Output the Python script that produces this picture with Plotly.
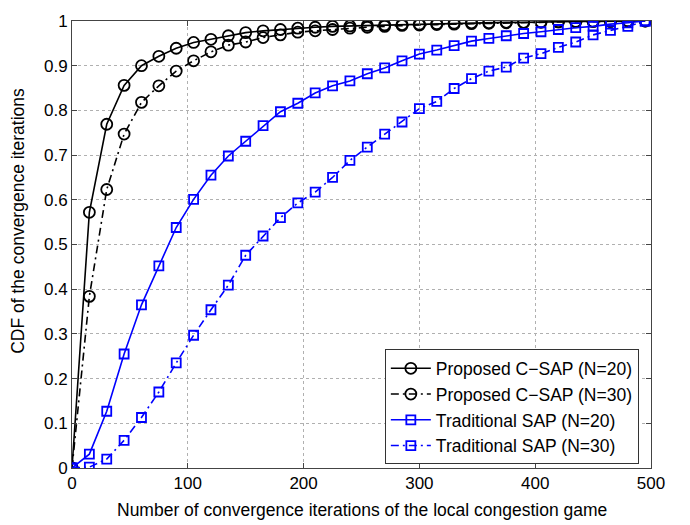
import plotly.graph_objects as go

# Iteration counts at which the CDF was sampled
iterations = list(range(0, 496, 15))

# CDF of the number of convergence iterations
csap_n20 = [0, 0.572, 0.769, 0.856, 0.900, 0.921, 0.939, 0.952, 0.959, 0.967, 0.974,
            0.978, 0.981, 0.984, 0.986, 0.988, 0.989, 0.990, 0.991, 0.992, 0.993,
            0.994, 0.995, 0.996, 0.996, 0.997, 0.997, 0.998, 0.998, 0.999, 0.999,
            0.999, 1.0, 1.0]
csap_n30 = [0, 0.384, 0.623, 0.747, 0.818, 0.855, 0.888, 0.911, 0.931, 0.946, 0.953,
            0.963, 0.969, 0.975, 0.978, 0.981, 0.984, 0.986, 0.988, 0.990, 0.991,
            0.992, 0.993, 0.994, 0.995, 0.996, 0.996, 0.997, 0.998, 0.998, 0.999,
            0.999, 1.0, 1.0]
sap_n20 = [0, 0.031, 0.127, 0.255, 0.365, 0.452, 0.538, 0.601, 0.655, 0.698, 0.731,
           0.766, 0.797, 0.816, 0.839, 0.855, 0.866, 0.882, 0.895, 0.911, 0.926,
           0.935, 0.945, 0.955, 0.961, 0.967, 0.972, 0.976, 0.981, 0.985, 0.988,
           0.993, 0.996, 1.0]
sap_n30 = [0, 0.002, 0.020, 0.062, 0.113, 0.170, 0.235, 0.297, 0.354, 0.409, 0.476,
           0.519, 0.560, 0.593, 0.617, 0.650, 0.688, 0.718, 0.747, 0.774, 0.804,
           0.820, 0.849, 0.871, 0.888, 0.897, 0.917, 0.927, 0.941, 0.953, 0.969,
           0.979, 0.988, 1.0]

series_names = ["Proposed C\u2212SAP (N=20)", "Proposed C\u2212SAP (N=30)",
                "Traditional SAP (N=20)", "Traditional SAP (N=30)"]

x_ticks = [0, 100, 200, 300, 400, 500]
y_ticks = [0, 0.1, 0.2, 0.3, 0.4, 0.5, 0.6, 0.7, 0.8, 0.9, 1]
y_tick_text = ["0", "0.1", "0.2", "0.3", "0.4", "0.5", "0.6", "0.7", "0.8", "0.9", "1"]

x_title = "Number of convergence iterations of the local congestion game"
y_title = "CDF of the convergence iterations"

DASHDOT = "8px,4px,2px,4px"
styles = [
    dict(color="black", dash="solid", symbol="circle-open", size=11),
    dict(color="black", dash=DASHDOT, symbol="circle-open", size=11),
    dict(color="#0000ff", dash="solid", symbol="square-open", size=9),
    dict(color="#0000ff", dash=DASHDOT, symbol="square-open", size=9),
]

fig = go.Figure()
for name, ys, st in zip(series_names, [csap_n20, csap_n30, sap_n20, sap_n30], styles):
    fig.add_trace(go.Scatter(
        x=iterations, y=ys, name=name, mode="lines+markers",
        line=dict(color=st["color"], width=1.6, dash=st["dash"]),
        marker=dict(symbol=st["symbol"], size=st["size"],
                    line=dict(color=st["color"], width=1.8)),
    ))

axis_common = dict(
    showline=True, linecolor="#444444", linewidth=1, mirror="ticks",
    ticks="inside", ticklen=5, tickcolor="#444444",
    showgrid=True, gridcolor="#b0b0b0", griddash="dot", gridwidth=1,
    zeroline=False,
    tickfont=dict(size=17, color="black"),
)

fig.update_layout(
    width=690, height=525,
    margin=dict(l=72, r=39, t=12, b=57),
    paper_bgcolor="white", plot_bgcolor="white",
    font=dict(family="Liberation Sans, Arial, sans-serif", size=17, color="black"),
    xaxis=dict(range=[0, 500], tickvals=x_ticks, **axis_common),
    yaxis=dict(range=[0, 1], tickvals=y_ticks, ticktext=y_tick_text, **axis_common),
    legend=dict(x=0.979, y=0.008, xanchor="right", yanchor="bottom",
                bgcolor="white", bordercolor="#333333", borderwidth=1,
                font=dict(size=17.5), tracegroupgap=0, itemwidth=40),
    showlegend=True,
    annotations=[
        dict(text=x_title, xref="paper", yref="paper", x=0.5, y=0,
             yshift=-42, xanchor="center", yanchor="middle", showarrow=False,
             font=dict(size=17.5)),
        dict(text=y_title, xref="paper", yref="paper", x=0, y=0.553,
             xshift=-54, xanchor="center", yanchor="middle", showarrow=False,
             textangle=-90, font=dict(size=17.5)),
    ],
)

fig.write_html("out.html")
